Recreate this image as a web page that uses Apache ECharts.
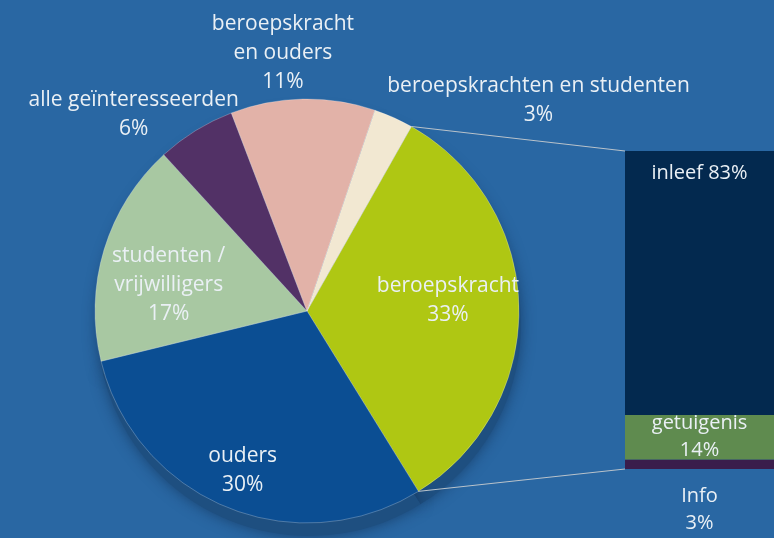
<!DOCTYPE html>
<html>
<head>
<meta charset="utf-8">
<script src="https://cdn.jsdelivr.net/npm/echarts@6/dist/echarts.min.js"></script>
<style>
  html, body { margin: 0; padding: 0; background: #2967a3; }
  #main { width: 774px; height: 538px; }
</style>
</head>
<body>
<div id="main"></div>
<script>
// doelgroepen (taart)
var categories = ['beroepskracht', 'ouders', 'studenten /\nvrijwilligers', 'alle geïnteresseerden', 'beroepskracht\nen ouders', 'beroepskrachten en studenten']
var values = [33, 30, 17, 6, 11, 3]
var colors = ['#afc713', '#0b4e93', '#a8c8a2', '#523166', '#e2b2a8', '#f2e8d2']

// uitsplitsing van beroepskracht (staaf)
var barCategories = ['Info', 'getuigenis', 'inleef']
var barValues = [3, 14, 83]
var barColors = ['#3a1d4b', '#5f8b4f', '#03294f']

// label verschuivingen t.o.v. het midden van de taartpunt
var labelOffsets = [[32, -8], [-23, 59], [-34, 6], [-116, -104], [-22, -149], [187, -111]]

var textColor = '#eaf0f5'
var font = 'Open Sans'
var pieCenter = [307, 311]
var pieRadius = 212
var startAngle = 60.5

var main = document.getElementById('main')
var myChart = echarts.init(main)

var pieData = categories.map(function (name, i) {
  return {
    name: name,
    value: values[i],
    itemStyle: { color: colors[i] },
    label: { offset: labelOffsets[i] }
  }
})

var barSeries = barCategories.map(function (name, i) {
  var label = {
    show: true,
    color: textColor,
    fontFamily: font,
    fontSize: 20,
    lineHeight: 27,
    formatter: name === 'inleef' ? '{a} {c}%' : '{a}\n{c}%'
  }
  if (name === 'inleef') { label.position = 'insideTop'; label.distance = 9 }
  else if (name === 'Info') { label.position = 'bottom'; label.distance = 14 }
  else { label.position = 'inside'; label.offset = [0, -2] }
  return {
    name: name,
    type: 'bar',
    stack: 'total',
    barWidth: '100%',
    data: [barValues[i]],
    itemStyle: { color: barColors[i] },
    label: label,
    labelLayout: { hideOverlap: false },
    silent: true
  }
})

var grid = { left: 625, right: 0, top: 151, bottom: 69 }

myChart.setOption({
  backgroundColor: '#2967a3',
  animation: false,
  grid: grid,
  xAxis: { type: 'category', data: ['beroepskracht'], show: false },
  yAxis: { type: 'value', min: 0, max: 100, show: false },
  series: [
    {
      // schaduw onder de taart
      type: 'pie',
      center: [pieCenter[0] + 2, pieCenter[1] + 13],
      radius: pieRadius,
      startAngle: startAngle,
      silent: true,
      z: 1,
      label: { show: false },
      labelLine: { show: false },
      itemStyle: { color: '#1e4f80', borderWidth: 0, shadowColor: 'rgba(10,30,60,0.5)', shadowBlur: 14 },
      data: values.map(function (v) { return { value: v } })
    },
    {
      type: 'pie',
      center: pieCenter,
      radius: pieRadius,
      startAngle: startAngle,
      clockwise: true,
      avoidLabelOverlap: false,
      z: 2,
      silent: true,
      itemStyle: { borderColor: 'rgba(255,255,255,0.25)', borderWidth: 1 },
      label: {
        show: true,
        position: 'inside',
        color: textColor,
        fontFamily: font,
        fontSize: 21,
        lineHeight: 29,
        align: 'center',
        formatter: '{b}\n{c}%'
      },
      labelLayout: { hideOverlap: false },
      labelLine: { show: false },
      data: pieData
    }
  ].concat(barSeries)
})

// verbindingslijnen van de beroepskracht-punt naar de staaf
var total = values.reduce(function (a, b) { return a + b }, 0)
var a0 = (90 - startAngle) * Math.PI / 180
var a1 = a0 + values[0] / total * 2 * Math.PI
function edge(a) {
  return [pieCenter[0] + pieRadius * Math.sin(a), pieCenter[1] - pieRadius * Math.cos(a)]
}
var p0 = edge(a0)
var p1 = edge(a1)
var barTop = myChart.convertToPixel({ yAxisIndex: 0 }, 100)
var barBottom = myChart.convertToPixel({ yAxisIndex: 0 }, 0)
var lineStyle = { stroke: '#b9c3cb', lineWidth: 1 }

myChart.setOption({
  graphic: [
    { type: 'line', z: 5, shape: { x1: p0[0], y1: p0[1], x2: grid.left, y2: barTop }, style: lineStyle, silent: true },
    { type: 'line', z: 5, shape: { x1: p1[0], y1: p1[1], x2: grid.left, y2: barBottom }, style: lineStyle, silent: true }
  ]
})
</script>
</body>
</html>
